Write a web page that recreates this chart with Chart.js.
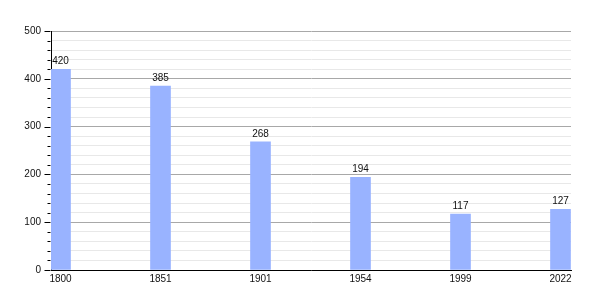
<!DOCTYPE html>
<html><head><meta charset="utf-8">
<script src="https://cdn.jsdelivr.net/npm/chart.js@4"></script>
<style>html,body{margin:0;padding:0;background:#fff}#wrap{width:600px;height:300px}</style>
</head><body><div id="wrap"><canvas id="c" width="600" height="300"></canvas></div>
<script>
const years = ["1800", "1851", "1901", "1954", "1999", "2022"];
const population = [420, 385, 268, 194, 117, 127];
const yMajorStep = 100;
const yMinorStep = 20;

const points = population.map((v, i) => ({ x: i, y: v }));
const FONT = "'Liberation Sans', Arial, sans-serif";

const overlay = {
  id: 'overlay',
  afterDraw(chart) {
    const ctx = chart.ctx;
    const y = chart.scales.y;
    ctx.save();
    ctx.strokeStyle = '#000';
    ctx.lineWidth = 1;
    const left = Math.round(y.right) - 0.5;
    for (let v = 0; v <= 500; v += yMinorStep) {
      const py = Math.round(y.getPixelForValue(v)) + 0.5;
      const len = (v % yMajorStep === 0) ? 6 : 3;
      ctx.beginPath();
      ctx.moveTo(left - len, py);
      ctx.lineTo(left, py);
      ctx.stroke();
    }
    ctx.fillStyle = '#111';
    ctx.font = '10px ' + FONT;
    ctx.textAlign = 'center';
    ctx.textBaseline = 'alphabetic';
    const meta = chart.getDatasetMeta(0);
    meta.data.forEach((bar, i) => {
      ctx.fillText(String(population[i]), bar.x, bar.y - 5);
    });
    ctx.restore();
  }
};

new Chart(document.getElementById('c'), {
  type: 'bar',
  data: {
    datasets: [{
      data: points,
      backgroundColor: '#99b3ff',
      borderWidth: 0,
      barThickness: 20
    }]
  },
  options: {
    responsive: false,
    animation: false,
    layout: { padding: { top: 31, right: 29, left: 0, bottom: 0 } },
    plugins: { legend: { display: false }, tooltip: { enabled: false } },
    scales: {
      x: {
        type: 'linear',
        offset: false,
        min: -0.095,
        max: 5.105,
        afterBuildTicks(scale) {
          scale.ticks = years.map((_, i) => ({ value: i }));
        },
        afterFit(scale) { scale.height = 30; },
        ticks: {
          autoSkip: false,
          maxRotation: 0,
          padding: 3,
          color: '#111',
          font: { family: FONT, size: 10 },
          callback: (v) => years[v] !== undefined ? years[v] : ''
        },
        grid: { display: false, drawTicks: false },
        border: { display: true, color: '#000', width: 1 }
      },
      y: {
        min: 0,
        max: 500,
        afterFit(scale) { scale.width = 51; },
        ticks: {
          stepSize: yMinorStep,
          autoSkip: false,
          padding: 10,
          color: '#111',
          font: { family: FONT, size: 10 },
          callback: (v) => (v % yMajorStep === 0) ? String(v) : ''
        },
        grid: {
          drawTicks: false,
          color: (c) => (c.tick && c.tick.value % yMajorStep === 0) ? '#a8a8a8' : '#e8e8e8',
          lineWidth: 1
        },
        border: { display: true, color: '#000', width: 1 }
      }
    }
  },
  plugins: [overlay]
});
</script>
</body></html>
